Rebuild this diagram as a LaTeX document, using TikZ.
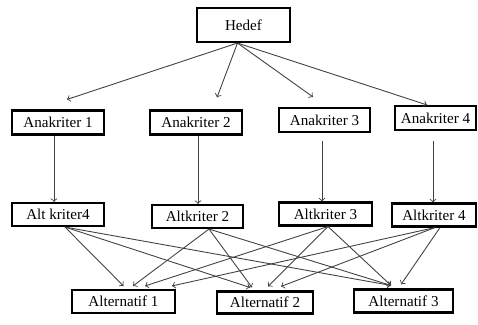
\documentclass[tikz,border=0pt]{standalone}
\usepackage{fontspec}
\setmainfont{Liberation Serif}
\usepackage{tikz}
\usetikzlibrary{positioning}
\usetikzlibrary{calc}
\usetikzlibrary{arrows}

\begin{document}
\begin{tikzpicture} [
    node distance=1.84cm and 2.76cm,    % Global setup of box spacing
    ]
% -------------------------------------------------
\tikzset{
  base/.style={draw, on grid, align=center, line width=1.2pt, font=\fontsize{8.6}{10}\selectfont},
  rect/.style={base, rectangle, minimum height=0.48cm, inner sep=1pt},
  line/.style={draw, ->, line width=0.5pt, color=black!75}
}

    \useasboundingbox (0,0) rectangle (9.56,-6.5);

    \node [rect, minimum width=1.86cm, minimum height=0.68cm] (hedef) at (4.87,-0.50) {Hedef};

    \node [rect, minimum width=1.84cm] (ana1) at (1.16,-2.45) {Anakriter 1};
    \node [rect, minimum width=1.84cm, right=2.76cm of ana1] (ana2) {Anakriter 2};
    \node [rect, minimum width=1.82cm, right=2.57cm of ana2, yshift=0.05cm] (ana3) {Anakriter 3};
    \node [rect, minimum width=1.62cm, right=2.22cm of ana3, yshift=0.04cm] (ana4) {Anakriter 4};

    \node [rect, minimum width=1.84cm, minimum height=0.46cm, below=of ana1] (alt1) {Alt kriter4};
    \node [rect, minimum width=1.82cm, minimum height=0.46cm, below=1.88cm of ana2, xshift=0.03cm] (alt2) {Altkriter 2};
    \node [rect, minimum width=1.86cm, minimum height=0.46cm, below=1.88cm of ana3, xshift=0.02cm] (alt3) {Altkriter 3};
    \node [rect, minimum width=1.68cm, minimum height=0.46cm, below=1.94cm of ana4, xshift=-0.03cm] (alt4) {Altkriter 4};

    \node [rect, minimum width=2.06cm, minimum height=0.46cm] (alf1) at (2.47,-6.03) {Alternatif 1};
    \node [rect, minimum width=1.92cm, minimum height=0.44cm, right=2.83cm of alf1, yshift=-0.02cm] (alf2) {Alternatif 2};
    \node [rect, minimum width=1.98cm, minimum height=0.46cm, right=2.77cm of alf2, yshift=0.03cm] (alf3) {Alternatif 3};

    % goal to main criteria
    \path [line] ([xshift=-0.12cm]hedef.south) -- ([xshift=0.18cm, yshift=0.20cm]ana1.north);
    \path [line] ([xshift=-0.12cm]hedef.south) -- ([xshift=0.42cm, yshift=0.24cm]ana2.north);
    \path [line] ([xshift=-0.12cm]hedef.south) -- ([xshift=-0.23cm, yshift=0.20cm]ana3.north);
    \path [line] ([xshift=-0.12cm]hedef.south) -- ([xshift=-0.17cm]ana4.north);

    % main criteria to sub criteria
    \path [line] ([xshift=-0.08cm]ana1.south) -- ([xshift=-0.08cm]ana1.south |- alt1.north);
    \path [line] ([xshift=0.04cm]ana2.south) -- ([xshift=0.04cm]ana2.south |- alt2.north);
    \path [line] ([xshift=-0.05cm, yshift=-0.16cm]ana3.south) -- ([xshift=-0.05cm]ana3.south |- alt3.north);
    \path [line] ([xshift=-0.05cm, yshift=-0.20cm]ana4.south) -- ([xshift=-0.05cm]ana4.south |- alt4.north);

    % sub criteria to alternatives
    \path [line] ([xshift=0.14cm]alt1.south) -- ([yshift=0.06cm]alf1.north);
    \path [line] ([xshift=0.14cm]alt1.south) -- ([xshift=-0.30cm, yshift=0.06cm]alf2.north);
    \path [line] ([xshift=0.14cm]alt1.south) -- ([xshift=-0.25cm, yshift=0.06cm]alf3.north);

    \path [line] ([xshift=0.23cm]alt2.south) -- ([xshift=0.19cm, yshift=0.06cm]alf1.north);
    \path [line] ([xshift=0.23cm]alt2.south) -- ([xshift=-0.26cm, yshift=0.06cm]alf2.north);
    \path [line] ([xshift=0.23cm]alt2.south) -- ([xshift=-0.25cm, yshift=0.06cm]alf3.north);

    \path [line] ([xshift=0.05cm]alt3.south) -- ([xshift=0.43cm, yshift=0.06cm]alf1.north);
    \path [line] ([xshift=0.05cm]alt3.south) -- ([xshift=0.06cm, yshift=0.08cm]alf2.north);
    \path [line] ([xshift=0.05cm]alt3.south) -- ([xshift=-0.25cm, yshift=0.06cm]alf3.north);

    \path [line] ([xshift=0.02cm]alt4.south) -- ([xshift=0.97cm, yshift=0.06cm]alf1.north);
    \path [line] ([xshift=0.02cm]alt4.south) -- ([xshift=0.32cm, yshift=0.08cm]alf2.north);
    \path [line] ([xshift=0.12cm]alt4.south) -- ([xshift=-0.05cm, yshift=0.08cm]alf3.north);

\end{tikzpicture}
\end{document}
